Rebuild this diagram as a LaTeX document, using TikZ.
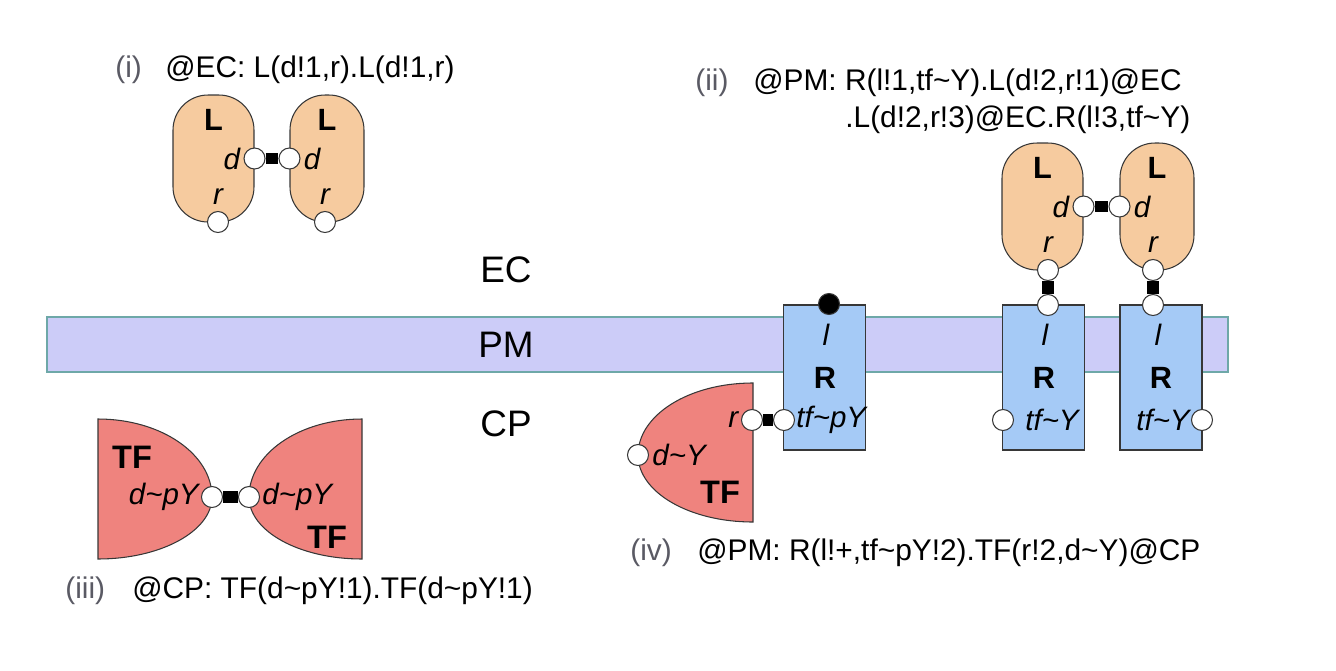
\documentclass[tikz,border=0pt]{standalone}
\usepackage{fontspec}
\setmainfont{Liberation Sans}
\usetikzlibrary{positioning}

\definecolor{lfill}{RGB}{246,203,159}
\definecolor{tffill}{RGB}{239,131,126}
\definecolor{rfill}{RGB}{165,202,246}
\definecolor{pmfill}{RGB}{204,204,248}
\definecolor{pmdraw}{RGB}{110,168,168}
\definecolor{edge}{RGB}{55,55,55}
\definecolor{taggray}{RGB}{90,90,100}

\newcommand{\tlde}{\textasciitilde}

\begin{document}
\begin{tikzpicture}[
    x=0.02cm, y=-0.02cm,
    font=\fontsize{17}{20}\selectfont,
    ligand/.style={draw=edge, fill=lfill, rectangle, rounded corners=0.7cm, minimum width=1.62cm, minimum height=2.54cm, line width=0.6pt},
    receptor/.style={draw=edge, fill=rfill, rectangle, minimum width=1.64cm, minimum height=2.9cm, line width=0.6pt},
    tfshape/.style={draw=edge, fill=tffill, line width=0.6pt},
    membrane/.style={draw=pmdraw, fill=pmfill, rectangle, minimum width=23.62cm, minimum height=1.1cm, line width=0.8pt},
    site/.style={draw=edge, fill=white, circle, minimum size=0.42cm, inner sep=0pt, line width=0.6pt},
    psite/.style={site, fill=black},
    bond/.style={line width=0.23cm},
    sitelab/.style={inner sep=0pt, font=\fontsize{16.8}{20}\selectfont\itshape},
    molname/.style={inner sep=0pt, font=\fontsize{17.5}{20}\selectfont\bfseries},
    region/.style={inner sep=0pt, font=\fontsize{21}{25}\selectfont},
    formula/.style={inner sep=0pt, anchor=base west},
    tagtxt/.style={inner sep=0pt, anchor=base west, text=taggray}
]
\useasboundingbox (0,0) rectangle (1336,670);

% Membrane and compartments
\node[membrane] (pmband) at (637.5,344.5) {};
\node[region] (ec) at (506,270) {EC};
\node[region] (pm) at (506,345) {PM};
\node[region] (cp) at (506,424) {CP};

% (i) ligand dimer
\node[ligand] (iL1) at (213.5,158.5) {};
\node[ligand, minimum width=1.48cm] (iL2) at (327,158.5) {};
\node[molname, below=0.3cm of iL1.north] (iL1name) {L};
\node[molname, below=0.3cm of iL2.north] (iL2name) {L};
\node[site] (iL1d) at (iL1.east) {};
\node[site] (iL2d) at (iL2.west) {};
\node[site] (iL1r) at (218,222) {};
\node[site] (iL2r) at (325,222) {};
\node[sitelab, left=0.06cm of iL1d] (iL1dlab) {d};
\node[sitelab, right=0.06cm of iL2d] (iL2dlab) {d};
\node[sitelab, above=0.12cm of iL1r] (iL1rlab) {r};
\node[sitelab, above=0.12cm of iL2r] (iL2rlab) {r};
\draw[bond] (iL1d) -- (iL2d);
\node[tagtxt] (itag) at (115,77) {(i)};
\node[formula] (iform) at (165,77) {@EC: L(d!1,r).L(d!1,r)};

% (ii) receptor dimer bridged by ligands
\node[ligand] (iiL1) at (1042.5,206.5) {};
\node[ligand, minimum width=1.48cm] (iiL2) at (1157,206.5) {};
\node[receptor] (iiR1) at (1043.5,377.5) {};
\node[receptor] (iiR2) at (1161,377.5) {};
\node[molname, below=0.3cm of iiL1.north] (iiL1name) {L};
\node[molname, below=0.3cm of iiL2.north] (iiL2name) {L};
\node[site] (iiL1d) at (iiL1.east) {};
\node[site] (iiL2d) at (iiL2.west) {};
\node[site] (iiL1r) at (1048,270) {};
\node[site] (iiL2r) at (1153,270) {};
\node[site] (iiR1l) at (1048,305) {};
\node[site] (iiR2l) at (1153,305) {};
\node[site] (iiR1tf) at (1003,420) {};
\node[site] (iiR2tf) at (1202,420) {};
\node[sitelab, left=0.06cm of iiL1d] (iiL1dlab) {d};
\node[sitelab, right=0.06cm of iiL2d] (iiL2dlab) {d};
\node[sitelab, above=0.12cm of iiL1r] (iiL1rlab) {r};
\node[sitelab, above=0.12cm of iiL2r] (iiL2rlab) {r};
\node[sitelab] (iiR1llab) at (1045,335) {l};
\node[sitelab] (iiR2llab) at (1158,335) {l};
\node[molname] (iiR1name) at (1044,378) {R};
\node[molname] (iiR2name) at (1161,378) {R};
\node[sitelab] (iiR1tflab) at (1052,420) {tf\tlde Y};
\node[sitelab] (iiR2tflab) at (1163,420) {tf\tlde Y};
\draw[bond] (iiL1d) -- (iiL2d);
\draw[bond] (iiL1r) -- (iiR1l);
\draw[bond] (iiL2r) -- (iiR2l);
\node[tagtxt] (iitag) at (695,90) {(ii)};
\node[formula] (iiform) at (753,90) {@PM: R(l!1,tf\tlde Y).L(d!2,r!1)@EC};
\node[formula] (iiform2) at (845,127) {.L(d!2,r!3)@EC.R(l!3,tf\tlde Y)};

% (iii) TF dimer
\draw[tfshape] (98,419) .. controls (161,419) and (212,454) .. (212,497)
    .. controls (212,531) and (161,559) .. (98,559) -- cycle;
\draw[tfshape] (362,419) .. controls (299,419) and (249,454) .. (249,497)
    .. controls (249,531) and (299,559) .. (362,559) -- cycle;
\node[site] (iiiT1d) at (212,497) {};
\node[site] (iiiT2d) at (249,497) {};
\node[molname, font=\fontsize{18.5}{21}\selectfont\bfseries] (iiiT1name) at (132,457) {TF};
\node[molname, font=\fontsize{18.5}{21}\selectfont\bfseries] (iiiT2name) at (327,537) {TF};
\node[sitelab, left=0.04cm of iiiT1d] (iiiT1dlab) {d\tlde pY};
\node[sitelab, right=0.04cm of iiiT2d] (iiiT2dlab) {d\tlde pY};
\draw[bond] (iiiT1d) -- (iiiT2d);
\node[tagtxt] (iiitag) at (65,598) {(iii)};
\node[formula] (iiiform) at (132,598) {@CP: TF(d\tlde pY!1).TF(d\tlde pY!1)};

% (iv) active receptor with bound TF
\node[receptor] (ivR) at (824.5,377.5) {};
\draw[tfshape] (753,383) .. controls (689,383) and (638,415) .. (638,455)
    .. controls (638,492) and (689,522) .. (753,522) -- cycle;
\node[psite] (ivRl) at (829,304) {};
\node[site] (ivRtf) at (784,420) {};
\node[site] (ivTFr) at (752,420) {};
\node[site] (ivTFd) at (638,455) {};
\node[sitelab] (ivRllab) at (826,335) {l};
\node[molname] (ivRname) at (825,378) {R};
\node[sitelab, right=0.02cm of ivRtf] (ivRtflab) {tf\tlde pY};
\node[sitelab, left=0.05cm of ivTFr] (ivTFrlab) {r};
\node[sitelab, right=0.06cm of ivTFd] (ivTFdlab) {d\tlde Y};
\node[molname, font=\fontsize{18.5}{21}\selectfont\bfseries] (ivTFname) at (720,492) {TF};
\draw[bond] (ivTFr) -- (ivRtf);
\node[tagtxt] (ivtag) at (630,560) {(iv)};
\node[formula] (ivform) at (697,560) {@PM: R(l!+,tf\tlde pY!2).TF(r!2,d\tlde Y)@CP};

\end{tikzpicture}
\end{document}
